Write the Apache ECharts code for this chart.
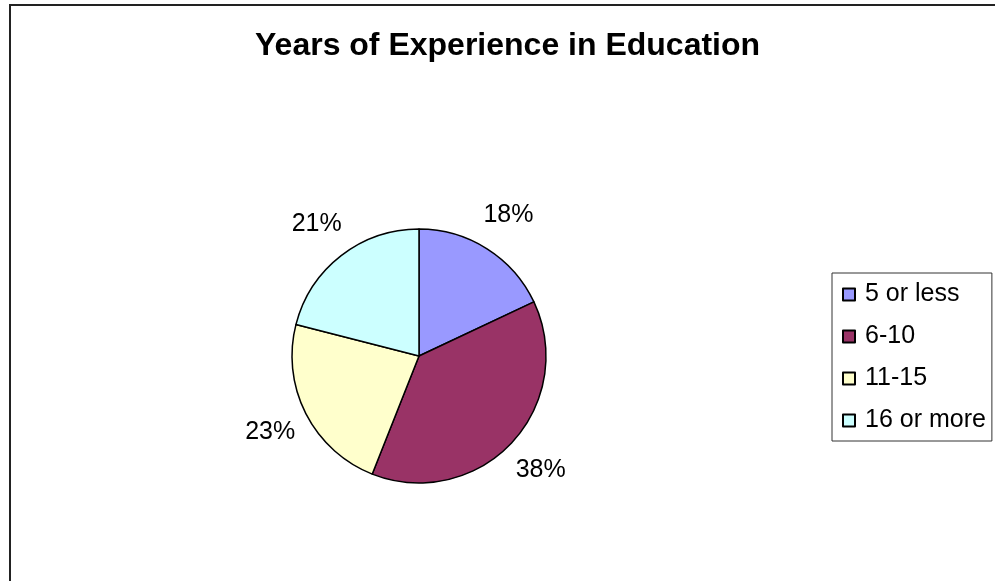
<!DOCTYPE html>
<html>
<head>
<meta charset="utf-8">
<script src="https://cdn.jsdelivr.net/npm/echarts@6/dist/echarts.min.js"></script>
<style>
html,body{margin:0;padding:0;background:#fff;}
#chart{width:995px;height:581px;}
</style>
</head>
<body>
<div id="chart"></div>
<script>
const titleText = 'Years of Experience in Education';
const categories = ['5 or less', '6-10', '11-15', '16 or more'];
const values = [18, 38, 23, 21];
const colors = ['#9999FF', '#993366', '#FFFFCC', '#CCFFFF'];

const chart = echarts.init(document.getElementById('chart'), null, {renderer: 'canvas'});
const font = 'Arial, "Liberation Sans", sans-serif';

chart.setOption({
  backgroundColor: '#ffffff',
  animation: false,
  title: {
    text: titleText,
    left: 250,
    top: 25,
    textStyle: {fontFamily: font, fontSize: 32, fontWeight: 'bold', color: '#000'}
  },
  graphic: [{
    type: 'rect',
    shape: {x: 10, y: 5, width: 1100, height: 700},
    style: {fill: 'none', stroke: '#222', lineWidth: 2},
    silent: true
  }],
  legend: {
    orient: 'vertical',
    left: 832,
    top: 273,
    data: categories,
    icon: 'rect',
    itemWidth: 12,
    itemHeight: 12,
    itemGap: 17,
    padding: [9, 6, 8, 10],
    borderColor: '#333',
    borderWidth: 1,
    textStyle: {fontFamily: font, fontSize: 25, color: '#000', lineHeight: 25, padding: [0, 0, 0, 5]}
  },
  series: [{
    type: 'pie',
    center: [419, 356],
    radius: 127,
    startAngle: 90,
    clockwise: true,
    avoidLabelOverlap: false,
    data: categories.map((c, i) => ({name: c, value: values[i], itemStyle: {color: colors[i]}})),
    itemStyle: {borderColor: '#000', borderWidth: 1.5},
    label: {
      show: true,
      position: 'outside',
      formatter: p => Math.round(p.percent) + '%',
      fontFamily: font,
      fontSize: 25,
      color: '#000',
      distanceToLabelLine: 0
    },
    labelLine: {show: false, length: 40, length2: 0},
    labelLayout: {align: 'center'},
    emphasis: {disabled: true}
  }]
});
</script>
</body>
</html>
